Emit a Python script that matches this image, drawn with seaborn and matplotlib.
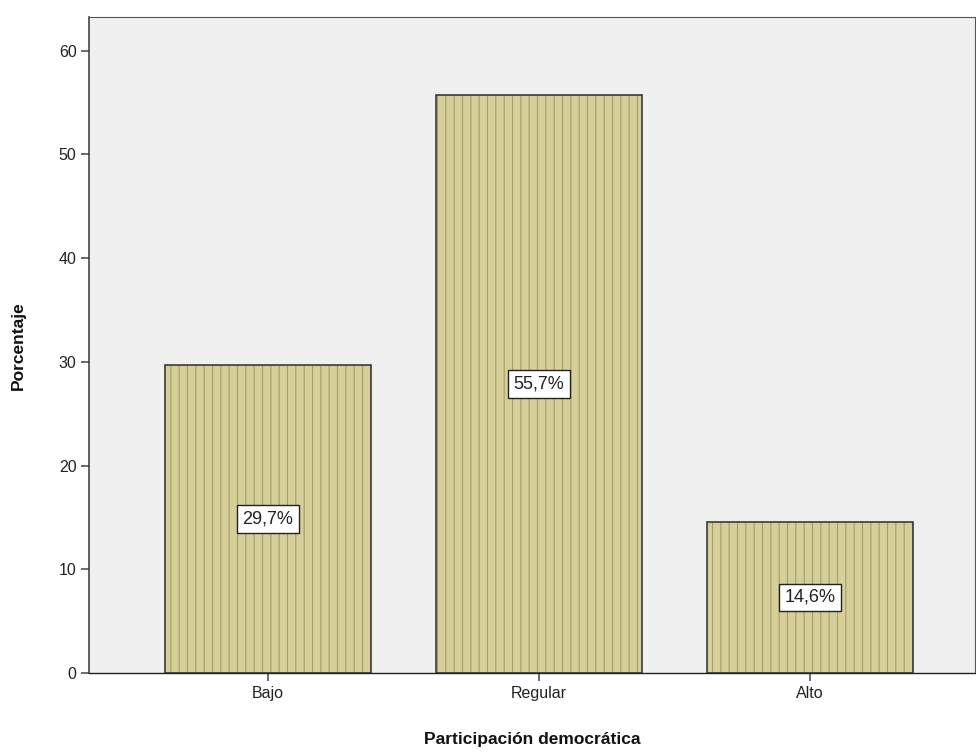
import matplotlib
matplotlib.use("Agg")
import matplotlib.pyplot as plt
import seaborn as sns
import pandas as pd

# ----------------------------
# Data
# ----------------------------
categories = ["Bajo", "Regular", "Alto"]
percentages = [29.7, 55.7, 14.6]
bar_labels = ["29,7%", "55,7%", "14,6%"]

df = pd.DataFrame({"nivel": categories, "pct": percentages})

# ----------------------------
# Style
# ----------------------------
sns.set_style("white")
plt.rcParams["font.family"] = ["Liberation Sans", "DejaVu Sans"]
plt.rcParams["hatch.linewidth"] = 0.8

fig = plt.figure(figsize=(9.76, 7.53), dpi=100)
ax = fig.add_axes([0.0912, 0.106, 0.908, 0.871])
ax.set_facecolor("#f0f0f0")

# fill + dotted-ish hatch
sns.barplot(data=df, x="nivel", y="pct", order=categories, width=0.76,
            color="#d6cf98", saturation=1, edgecolor="#a19d72",
            linewidth=0, hatch="||", ax=ax)
# outline
sns.barplot(data=df, x="nivel", y="pct", order=categories, width=0.76,
            facecolor="none", edgecolor="#3a3a3a", linewidth=1.2, ax=ax)

for i, (v, lab) in enumerate(zip(percentages, bar_labels)):
    ax.text(i, v / 2, lab, ha="center", va="center", fontsize=13,
            color="#222222",
            bbox=dict(boxstyle="square,pad=0.3", facecolor="white",
                      edgecolor="#222222", linewidth=1))

ax.set_ylim(0, 63.2)
ax.set_xlim(-0.66, 2.61)
ax.set_yticks([0, 10, 20, 30, 40, 50, 60])

for side in ["left", "bottom", "top", "right"]:
    ax.spines[side].set_visible(True)
ax.spines["left"].set_color("#444444")
ax.spines["left"].set_linewidth(1.2)
ax.spines["bottom"].set_color("#222222")
ax.spines["bottom"].set_linewidth(1.0)
ax.spines["top"].set_color("#555555")
ax.spines["right"].set_color("#555555")

ax.tick_params(axis="both", which="major", direction="out", length=6,
               width=1.1, color="#444444", labelsize=11.5,
               labelcolor="#222222", left=True, bottom=True, pad=3)

ax.set_xlabel("Participación democrática", fontsize=12.5, fontweight="bold",
              color="#111111")
ax.set_ylabel("Porcentaje", fontsize=12.5, fontweight="bold",
              color="#111111")
ax.xaxis.set_label_coords(0.5, -0.09)
ax.yaxis.set_label_coords(-0.071, 0.5)

fig.savefig("out.png", dpi=100)
